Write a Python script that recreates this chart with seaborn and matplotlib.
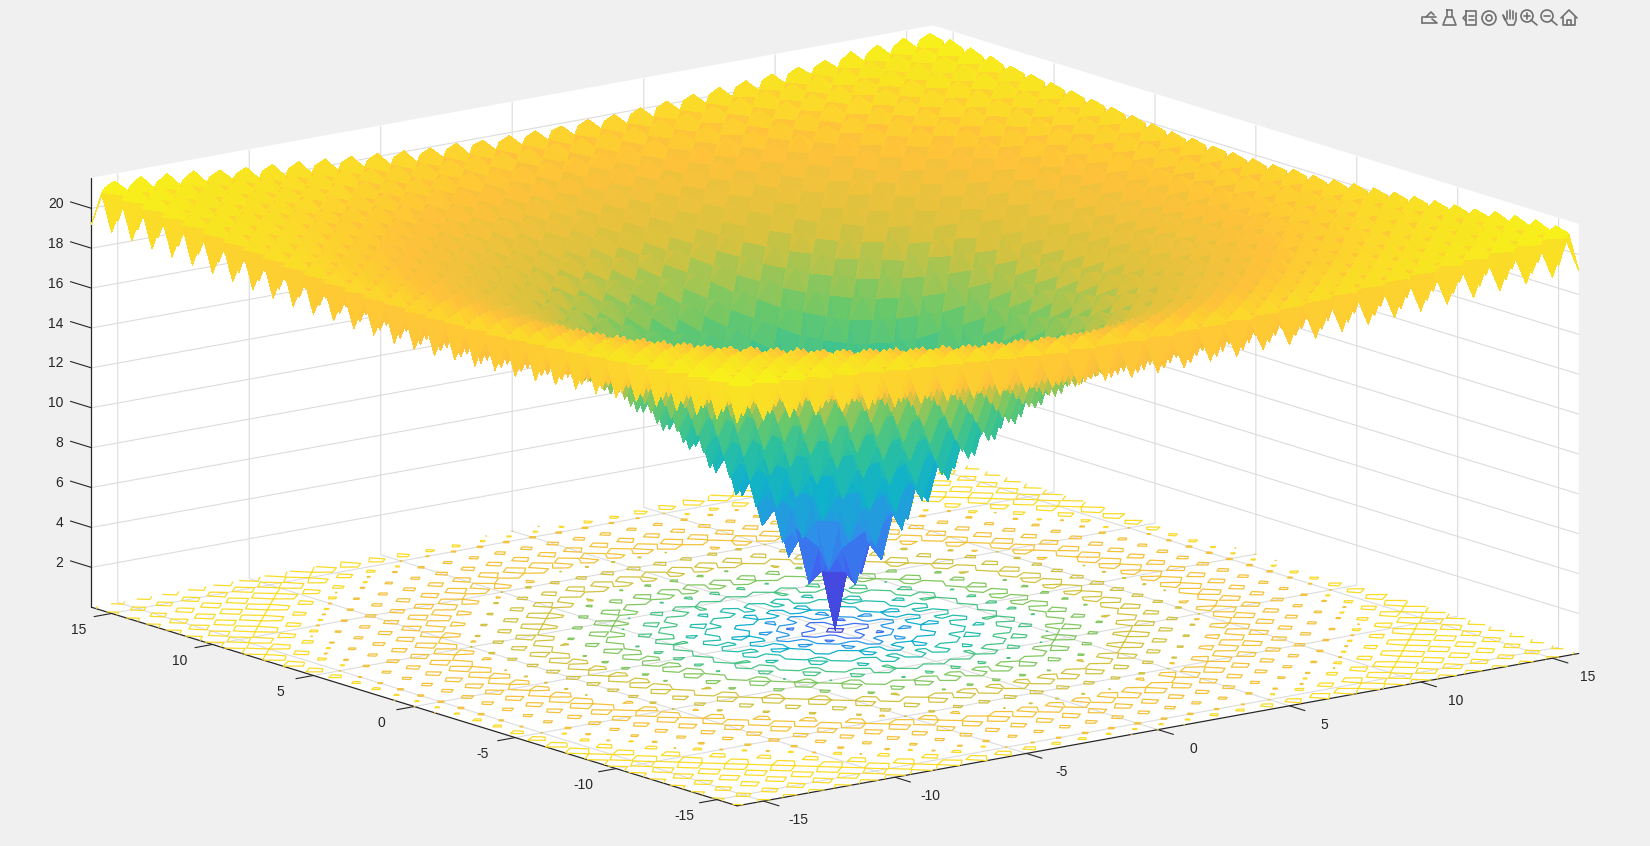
import numpy as np
import matplotlib
matplotlib.use("Agg")
import matplotlib.pyplot as plt
from matplotlib.lines import Line2D
from matplotlib.patches import Circle
from mpl_toolkits.mplot3d import proj3d
import seaborn as sns

# Estimated surface heights on a 0.5-unit grid. One octant is typed by hand,
# row i holds the points j = 0..i, counted outward from the centre; the picture's
# symmetry supplies the rest. These are estimates of the shape, not pixel readings.
SURFACE_ROWS = [
[0.0],
[3.1,4.3],
[2.6,4.6,3.6],
[5.5,6.3,6.2,7.5],
[4.9,6.8,5.4,7.7,6.6],
[7.7,8.4,8.0,9.1,9.0,10.2],
[6.9,8.7,7.2,9.3,8.0,10.2,9.0],
[9.5,10.2,9.8,10.7,10.4,11.5,11.3,12.4],
[8.6,10.4,8.8,10.8,9.4,11.4,10.1,12.3,11.0],
[11.1,11.8,11.3,12.1,11.8,12.7,12.4,13.4,13.2,14.2],
[10.1,11.9,10.3,12.1,10.6,12.6,11.2,13.3,11.9,14.0,12.6],
[12.5,13.2,12.6,13.4,13.0,13.8,13.5,14.4,14.1,15.0,14.7,15.7],
[11.4,13.2,11.5,13.4,11.8,13.7,12.3,14.2,12.8,14.8,13.4,15.4,14.0],
[13.7,14.4,13.8,14.6,14.1,14.9,14.4,15.3,14.9,15.8,15.4,16.3,16.0,16.9],
[12.6,14.3,12.6,14.4,12.9,14.7,13.2,15.1,13.6,15.6,14.1,16.0,14.6,16.5,15.1],
[14.8,15.4,14.9,15.6,15.0,15.8,15.3,16.1,15.7,16.5,16.1,17.0,16.6,17.4,17.0,17.9],
[13.5,15.3,13.6,15.4,13.8,15.6,14.0,15.9,14.4,16.3,14.7,16.6,15.1,17.1,15.6,17.5,16.0],
[15.7,16.3,15.8,16.4,15.9,16.6,16.1,16.9,16.4,17.2,16.8,17.6,17.1,17.9,17.5,18.3,17.9,18.7],
[14.4,16.1,14.4,16.2,14.6,16.4,14.8,16.6,15.0,16.9,15.3,17.2,15.7,17.6,16.0,17.9,16.4,18.2,16.7],
[16.5,17.1,16.5,17.2,16.7,17.4,16.8,17.6,17.1,17.8,17.3,18.1,17.6,18.4,17.9,18.7,18.3,19.1,18.6,19.4],
[15.1,16.9,15.2,16.9,15.3,17.1,15.4,17.2,15.6,17.5,15.9,17.7,16.1,18.0,16.4,18.3,16.7,18.6,17.0,18.9,17.3],
[17.2,17.8,17.2,17.9,17.3,18.0,17.4,18.2,17.6,18.4,17.9,18.6,18.1,18.9,18.4,19.1,18.6,19.4,18.9,19.7,19.1,19.9],
[15.8,17.5,15.8,17.6,15.9,17.7,16.0,17.8,16.2,18.0,16.4,18.2,16.6,18.4,16.8,18.7,17.1,18.9,17.3,19.2,17.6,19.4,17.8],
[17.8,18.4,17.8,18.5,17.9,18.6,18.0,18.7,18.1,18.9,18.3,19.1,18.5,19.3,18.7,19.5,19.0,19.7,19.2,19.9,19.4,20.1,19.6,20.3],
[16.3,18.1,16.4,18.1,16.4,18.2,16.5,18.3,16.7,18.5,16.8,18.6,17.0,18.8,17.2,19.0,17.4,19.2,17.6,19.4,17.8,19.6,18.0,19.8,18.2],
[18.3,18.9,18.3,19.0,18.4,19.1,18.5,19.2,18.6,19.3,18.7,19.5,18.9,19.6,19.1,19.8,19.3,20.0,19.5,20.2,19.6,20.4,19.8,20.5,20.0,20.7],
[16.8,18.5,16.8,18.6,16.9,18.6,17.0,18.7,17.1,18.9,17.2,19.0,17.4,19.2,17.5,19.3,17.7,19.5,17.9,19.7,18.0,19.8,18.2,20.0,18.4,20.2,18.5],
[18.8,19.4,18.8,19.4,18.8,19.5,18.9,19.6,19.0,19.7,19.1,19.8,19.2,19.9,19.4,20.1,19.5,20.3,19.7,20.4,19.9,20.6,20.0,20.7,20.2,20.9,20.3,21.0],
[17.2,19.0,17.2,19.0,17.3,19.0,17.4,19.1,17.4,19.2,17.6,19.3,17.7,19.5,17.8,19.6,18.0,19.7,18.1,19.9,18.2,20.0,18.4,20.2,18.5,20.3,18.7,20.4,18.8],
[19.1,19.8,19.2,19.8,19.2,19.9,19.3,19.9,19.3,20.0,19.4,20.1,19.5,20.2,19.7,20.4,19.8,20.5,19.9,20.6,20.1,20.8,20.2,20.9,20.3,21.0,20.4,21.1,20.6,21.2],
[17.6,19.3,17.6,19.3,17.6,19.4,17.7,19.4,17.8,19.5,17.9,19.6,18.0,19.7,18.1,19.8,18.2,20.0,18.3,20.1,18.4,20.2,18.6,20.3,18.7,20.5,18.8,20.6,18.9,20.7,19.0],
[19.5,20.1,19.5,20.1,19.5,20.2,19.6,20.2,19.6,20.3,19.7,20.4,19.8,20.5,19.9,20.6,20.0,20.7,20.1,20.8,20.2,20.9,20.4,21.0,20.5,21.2,20.6,21.3,20.7,21.4,20.8,21.4],
[17.9,19.6,17.9,19.7,18.0,19.7,18.0,19.7,18.1,19.8,18.1,19.9,18.2,20.0,18.3,20.1,18.4,20.2,18.5,20.3,18.6,20.4,18.7,20.5,18.8,20.6,18.9,20.7,19.0,20.8,19.1,20.9,19.2],
]
AXIS_TICKS = [-15, -10, -5, 0, 5, 10, 15]
AXIS_LIMITS = (-16, 16)
Z_TICKS = [2, 4, 6, 8, 10, 12, 14, 16, 18, 20]
CONTOUR_LEVELS = [2, 4, 6, 8, 10, 12, 14, 16, 18, 20]
Z_LIMITS = (0, 21.5)
PARULA = ["#3e26a8", "#4655f2", "#2f8fea", "#0fb0cc", "#2bc09e", "#6cc868",
          "#d6c23f", "#ffc23a", "#f5f814"]

sns.set_theme(style="white")
plt.rcParams["font.family"] = ["Liberation Sans", "DejaVu Sans"]
plt.rcParams["axes.unicode_minus"] = False

n = len(SURFACE_ROWS)
quadrant = np.zeros((n, n))
for i, row in enumerate(SURFACE_ROWS):
    quadrant[i, :i + 1] = row
    quadrant[:i + 1, i] = row
half = np.hstack([quadrant[:, :0:-1], quadrant])
Z = np.vstack([half[:0:-1], half])
grid = np.linspace(AXIS_LIMITS[0], AXIS_LIMITS[1], Z.shape[0])
X, Y = np.meshgrid(grid, grid)

# Split each grid cell along the diagonal that joins its mid-height corners.
m = Z.shape[0]
triangles = []
for r in range(m - 1):
    for q in range(m - 1):
        corners = [(r, q), (r, q + 1), (r + 1, q + 1), (r + 1, q)]
        apexes = [c for c in corners if (c[0] + c[1]) % 2 == 0]
        mids = [c for c in corners if (c[0] + c[1]) % 2 == 1]
        for a in apexes:
            triangles.append([a[0] * m + a[1], mids[0][0] * m + mids[0][1], mids[1][0] * m + mids[1][1]])

W, H = 1650, 846
BG = "#f0f0f0"
fig = plt.figure(figsize=(W / 100, H / 100), dpi=100, facecolor=BG)
side_h = W / H
ax = fig.add_axes([-0.0074, (1 - side_h) / 2 - 0.018, 1, side_h], projection="3d", facecolor="none")
ax.set_proj_type("ortho")
ax.view_init(elev=13.65, azim=-127.5)
ax.set_box_aspect((1, 1, 0.416), zoom=0.92)
ax.computed_zorder = False

cmap = sns.blend_palette(PARULA, n_colors=256, as_cmap=True)
norm = plt.Normalize(Z_LIMITS[0], Z_LIMITS[1])
ax.contour(X, Y, Z, levels=CONTOUR_LEVELS, zdir="z", offset=Z_LIMITS[0],
           cmap=cmap, norm=norm, linewidths=0.9, zorder=1)
ax.plot_trisurf(X.ravel(), Y.ravel(), Z.ravel(), triangles=np.array(triangles),
                cmap=cmap, norm=norm, shade=False, linewidth=0, antialiased=False, zorder=2)

ink = "#262626"
for v in Z_TICKS:
    ax.plot([AXIS_LIMITS[0]] * 2, [AXIS_LIMITS[1], AXIS_LIMITS[1] + 1.04], [v, v], color=ink, lw=0.8, zorder=4)

ax.set_xlim(*AXIS_LIMITS)
ax.set_ylim(*AXIS_LIMITS)
ax.set_zlim(*Z_LIMITS)
ax.set_xticks(AXIS_TICKS)
ax.set_yticks(AXIS_TICKS)
ax.set_zticks(Z_TICKS)
ax.set_xticklabels([])
ax.set_yticklabels([])
ax.set_zticklabels([])
for axis, factor in ((ax.xaxis, -0.3), (ax.yaxis, -0.26), (ax.zaxis, 0.0)):
    axis.set_pane_color((1, 1, 1, 1))
    axis.pane.set_edgecolor("white")
    axis.line.set_color(ink)
    axis.line.set_linewidth(0.9)
    axis._axinfo["grid"].update(color="#dcdcdc", linewidth=0.8, linestyle="-")
    axis._axinfo["tick"].update(inward_factor=0.0, outward_factor=factor,
                                linewidth={True: 0.8, False: 0.5}, color=ink)
ax.grid(True)
ax.zaxis.set_ticks_position("upper")

# Tick labels are placed through the axes' own projection, as flat text.
projection = ax.get_proj()
label_style = dict(fontsize=10, color=ink, zorder=5, transform=ax.transData)
def axis_label(x, y, z, value, ha):
    px, py, _ = proj3d.proj_transform(x, y, z, projection)
    ax.text2D(px, py, str(value), ha=ha, va="center", **label_style)
for v in AXIS_TICKS:
    axis_label(v, AXIS_LIMITS[0] - 1.74, Z_LIMITS[0] - 0.41, v, "center")
    axis_label(AXIS_LIMITS[0] - 1.25, v, Z_LIMITS[0] - 0.52, v, "center")
for v in Z_TICKS:
    axis_label(AXIS_LIMITS[0], AXIS_LIMITS[1] + 1.39, v - 0.21, v, "right")

# toolbar icons, drawn in pixel coordinates on a transparent overlay
ov = fig.add_axes([0, 0, 1, 1], facecolor="none")
ov.set_xlim(0, W)
ov.set_ylim(H, 0)
ov.axis("off")
c = "#707070"
def pl(xs, ys, lw=1.2):
    ov.add_line(Line2D(xs, ys, color=c, lw=lw))
pl([1422, 1422, 1436], [23, 17, 17]); pl([1422, 1436], [23, 23]); pl([1426, 1431, 1434], [17, 12, 15]); pl([1432, 1437], [19, 23])
pl([1447, 1452, 1452, 1447, 1447], [10, 10, 17, 17, 10]); pl([1446, 1443, 1456, 1453], [17, 25, 25, 17])
pl([1466, 1476, 1476, 1466, 1466], [11, 11, 25, 25, 11]); pl([1469, 1474], [16, 16]); pl([1469, 1474], [20, 20]); pl([1466, 1463, 1466], [15, 18, 21])
ov.add_patch(Circle((1489, 18), 7, fill=False, ec=c, lw=1.2)); ov.add_patch(Circle((1489, 18), 3, fill=False, ec=c, lw=1.2))
pl([1505, 1503, 1508, 1514, 1516, 1516], [20, 15, 25, 25, 20, 13]); pl([1507, 1507], [11, 19]); pl([1510, 1510], [10, 19]); pl([1513, 1513], [11, 19])
for cx in (1527, 1547):
    ov.add_patch(Circle((cx, 16), 6, fill=False, ec=c, lw=1.2))
    pl([cx + 4, cx + 10], [20, 25]); pl([cx - 3, cx + 3], [16, 16])
pl([1527, 1527], [13, 19])
pl([1561, 1569, 1577], [18, 10, 18]); pl([1563, 1563, 1575, 1575], [17, 25, 25, 17]); pl([1567, 1567, 1571, 1571], [25, 20, 20, 25])

fig.savefig("out.png", dpi=100, facecolor=BG)
